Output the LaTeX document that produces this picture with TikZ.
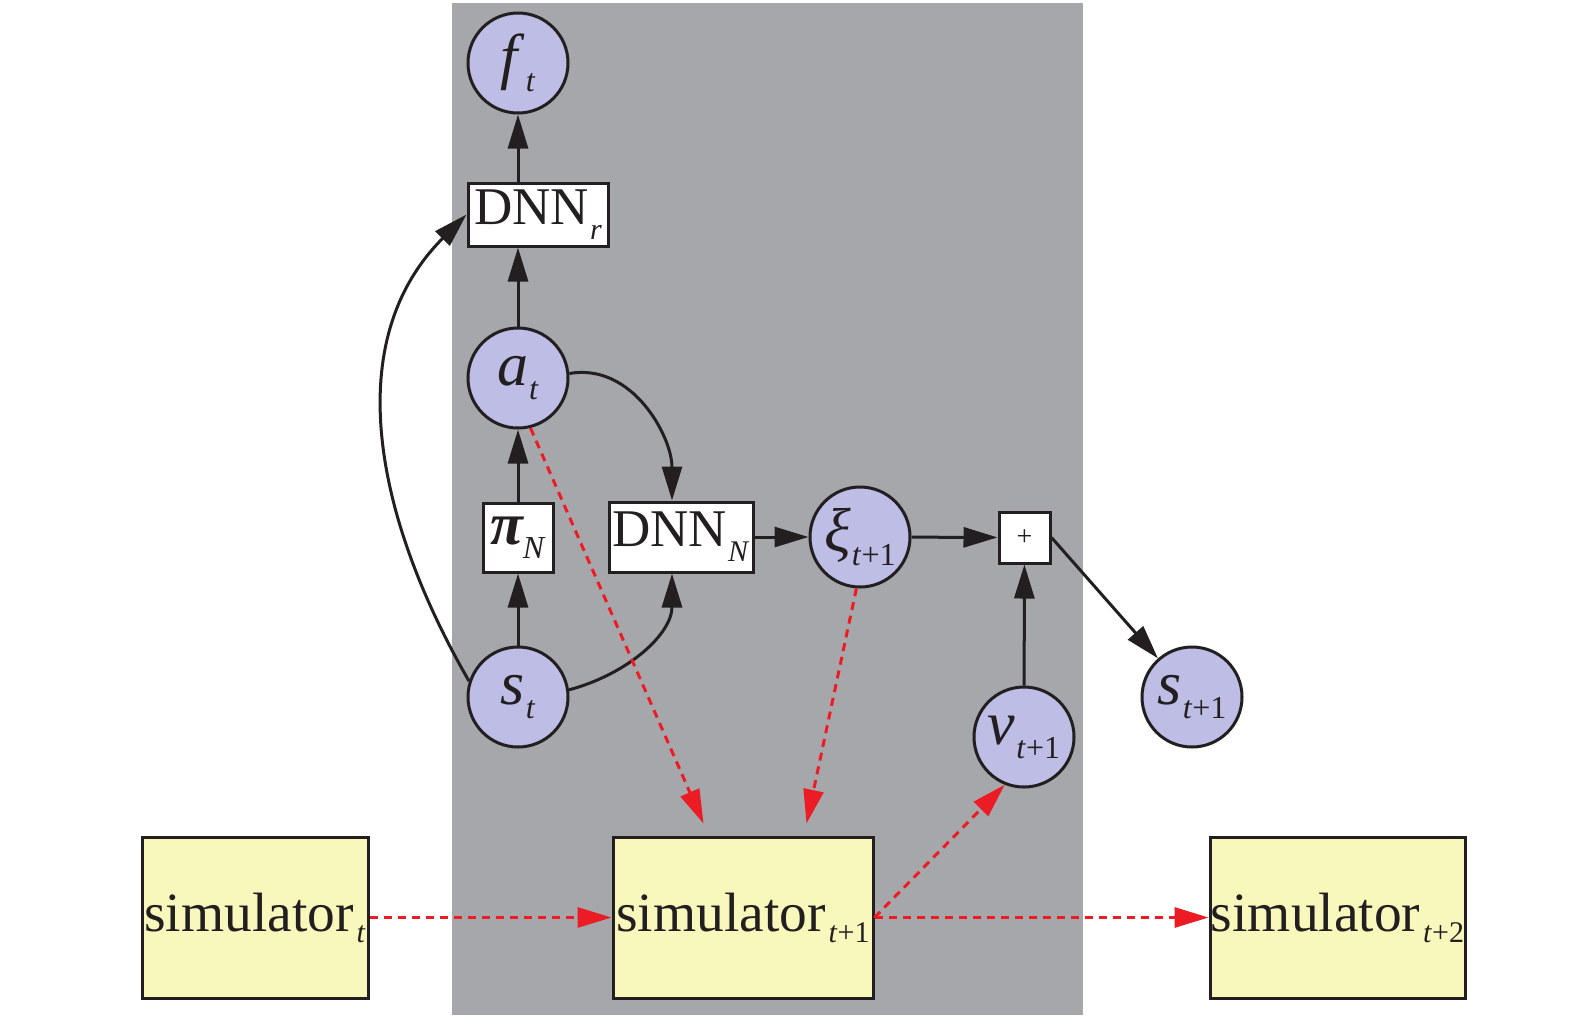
\documentclass[tikz,border=0pt]{standalone}
\usepackage{fontspec}
\setmainfont{Liberation Serif}
\usetikzlibrary{arrows.meta,calc}
\definecolor{bggray}{HTML}{A6A7AB}
\definecolor{nodeblue}{HTML}{BDBDE5}
\definecolor{simyel}{HTML}{F8F8BC}
\definecolor{reddash}{HTML}{EC1C24}
\definecolor{ink}{HTML}{231F20}
\newcommand\ctxt[2]{{\fontsize{31}{36}\selectfont\textit{#1}}\kern0.5pt\raisebox{-7pt}{\fontsize{16}{18}\selectfont #2}}
\newcommand\btxt[2]{{\fontsize{26.5}{30}\selectfont #1}\kern0.5pt\raisebox{-7.5pt}{\fontsize{15}{17}\selectfont #2}}
\newcommand\stxt[2]{{\fontsize{27.7}{32}\selectfont #1}\kern1.5pt\raisebox{-5.5pt}{\fontsize{15}{17}\selectfont #2}}
\begin{document}
\begin{tikzpicture}[x=0.5pt,y=0.5pt,
  circ/.style={circle,draw=ink,line width=1.5pt,fill=nodeblue,minimum size=50pt,inner sep=0pt,text=ink},
  wbox/.style={rectangle,draw=ink,line width=1.5pt,fill=white,inner sep=0pt,text=ink},
  simbox/.style={rectangle,draw=ink,line width=1.5pt,fill=simyel,inner sep=0pt,minimum height=80.5pt,text=ink},
  blk/.style={draw=ink,line width=1.5pt,-{Triangle[length=17pt,width=10pt]}},
  rdd/.style={draw=reddash,line width=1.5pt,dash pattern=on 4pt off 3pt,-{Triangle[length=17pt,width=10pt]}}]
\useasboundingbox (0,0) rectangle (1575,-1024);
\fill[bggray] (452,-3) rectangle (1083,-1015);
% nodes
\node[circ] (ft) at (518,-63) {\ctxt{f}{\textit{t}}};
\node[wbox,minimum width=70pt,minimum height=31.5pt] (dnnr) at (538,-214.5) {\btxt{DNN}{\textit{r}}};
\node[circ] (at) at (518,-378) {\ctxt{a}{\textit{t}}};
\node[wbox,minimum width=35pt,minimum height=34.5pt] (pin) at (518,-537.5) {{\fontsize{30}{32}\selectfont\bfseries\itshape π}\raisebox{-7pt}{\fontsize{16}{18}\selectfont\textit{N}}};
\node[wbox,minimum width=72pt,minimum height=35pt] (dnnn) at (681,-537) {\btxt{DNN}{\textit{N}}};
\node[circ] (xi) at (860,-537) {\ctxt{ξ}{\textit{t}+1}};
\node[wbox,minimum width=25.5pt,minimum height=25.5pt] (plus) at (1024.5,-537.5) {\fontsize{14}{14}\selectfont +};
\node[circ] (st) at (518,-697) {\ctxt{s}{\textit{t}}};
\node[circ] (vt) at (1024,-737) {\ctxt{v}{\textit{t}+1}};
\node[circ] (st1) at (1192,-697) {\ctxt{s}{\textit{t}+1}};
\node[simbox,minimum width=113pt] (sim0) at (255,-917.5) {\stxt{simulator}{\textit{t}}};
\node[simbox,minimum width=130pt] (sim1) at (743,-917.5) {\stxt{simulator}{\textit{t}+1}};
\node[simbox,minimum width=127.5pt] (sim2) at (1337.5,-917.5) {\stxt{simulator}{\textit{t}+2}};
% black connectors
\draw[blk] (dnnr.north -| ft) -- (ft);
\draw[blk] (at) -- (dnnr.south -| at);
\draw[blk] (pin) -- (at);
\draw[blk] (st) -- (pin);
\draw[blk] (st.162) to[out=120,in=225] (dnnr.west);
\draw[blk] (at.5) to[out=10,in=90] (dnnn.north -| 672,0);
\draw[blk] (st.8) to[out=15,in=-90] (dnnn.south -| 672,0);
\draw[blk] (dnnn) -- (xi);
\draw[blk] (xi) -- (plus);
\draw[blk] (vt) -- (plus);
\draw[blk] (plus.east) -- (st1);
% red dashed connectors
\coordinate (sa) at ($(sim1.north west)+(92,12)$);
\coordinate (sb) at ($(sim1.north west)+(195,12)$);
\draw[rdd] (at.-76) -- (sa);
\draw[rdd] (xi.-94) -- (sb);
\draw[rdd] (sim1.east) -- (vt.248);
\draw[rdd] (sim0.east) -- (sim1.west);
\draw[rdd] (sim1.east) -- (sim2.west);
\end{tikzpicture}
\end{document}
